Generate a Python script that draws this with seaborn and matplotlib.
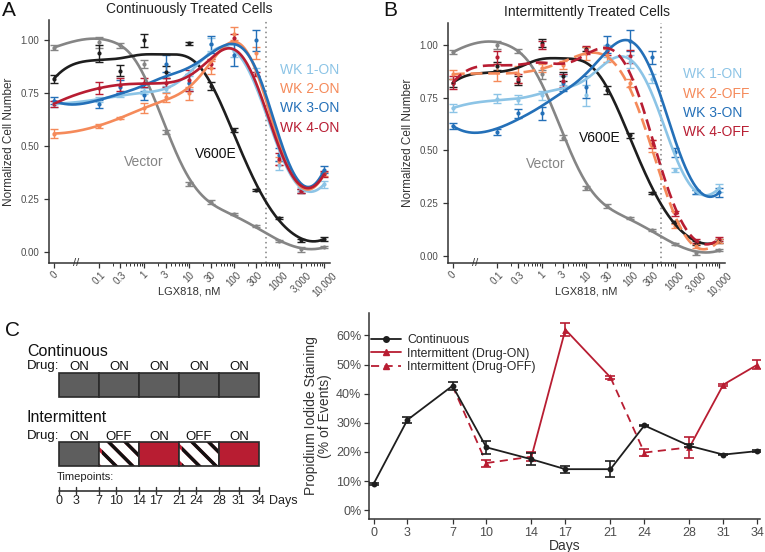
import numpy as np
import pandas as pd
import matplotlib
matplotlib.use("Agg")
import matplotlib.pyplot as plt
import matplotlib.transforms as mtransforms
from matplotlib.patches import Rectangle
from matplotlib.lines import Line2D
import seaborn as sns

sns.set_theme(style="ticks")
plt.rcParams["font.family"] = ["Liberation Sans", "DejaVu Sans"]
plt.rcParams["hatch.linewidth"] = 2.4

# colores
GRIS_V = "#858585"
NEGRO = "#1E1E1E"
CELESTE = "#8CC4E6"
NARANJA = "#F58A5A"
AZUL = "#2470B8"
ROJO = "#B81D32"
CAJA_GRIS = "#5E5E5E"
TXT = "#4D4D4D"

# ── datos: curvas dosis-respuesta ─────────────
conc = [0, 0.1, 0.3, 1, 3, 10, 30, 100, 300, 1000, 3000, 10000]
conc_labels = ["0", "0.1", "0.3", "1", "3", "10", "30", "100", "300", "1000", "3,000", "10,000"]
linea_dosis = 500

# A: continuously treated
a_vector = [0.965, 0.99, 0.975, 0.887, 0.566, 0.324, 0.236, 0.182, 0.124, 0.055, 0.014, 0.024]
a_vector_err = [0.01, 0.025, 0.01, 0.02, 0.01, 0.01, 0.01, 0.005, 0.005, 0.005, 0.01, 0.005]
a_v600e = [0.818, 0.939, 0.857, 1.00, 0.85, 0.985, 0.785, 0.575, 0.294, 0.162, 0.057, 0.064]
a_v600e_err = [0.02, 0.04, 0.025, 0.03, 0.03, 0.008, 0.02, 0.01, 0.005, 0.005, 0.008, 0.008]
a_wk1 = [0.70, 0.72, 0.74, 0.76, 0.77, 0.80, 0.98, 0.95, 0.85, 0.41, 0.30, 0.32]
a_wk1_err = [0.015, 0.01, 0.01, 0.015, 0.015, 0.03, 0.03, 0.03, 0.02, 0.02, 0.01, 0.015]
a_wk2 = [0.56, 0.595, 0.635, 0.68, 0.73, 0.75, 0.87, 1.03, 0.94, 0.43, 0.29, 0.37]
a_wk2_err = [0.02, 0.01, 0.005, 0.025, 0.02, 0.03, 0.03, 0.03, 0.03, 0.02, 0.01, 0.01]
a_wk3 = [0.715, 0.70, 0.78, 0.74, 0.89, 0.80, 0.98, 0.93, 1.00, 0.46, 0.29, 0.39]
a_wk3_err = [0.015, 0.02, 0.03, 0.02, 0.04, 0.04, 0.04, 0.05, 0.05, 0.03, 0.01, 0.015]
a_wk4 = [0.70, 0.775, 0.79, 0.80, 0.80, 0.81, 0.89, 1.01, 0.84, 0.44, 0.29, 0.37]
a_wk4_err = [0.015, 0.03, 0.03, 0.02, 0.02, 0.05, 0.02, 0.02, 0.01, 0.03, 0.01, 0.015]

# B: intermittently treated
b_vector = [0.965, 1.00, 0.97, 0.86, 0.56, 0.32, 0.235, 0.18, 0.12, 0.055, 0.012, 0.025]
b_vector_err = [0.01, 0.02, 0.01, 0.02, 0.01, 0.01, 0.01, 0.005, 0.005, 0.005, 0.01, 0.005]
b_v600e = [0.82, 0.90, 0.83, 1.01, 0.85, 0.98, 0.785, 0.57, 0.295, 0.16, 0.06, 0.07]
b_v600e_err = [0.02, 0.02, 0.02, 0.02, 0.02, 0.01, 0.02, 0.01, 0.005, 0.005, 0.008, 0.008]
b_wk1 = [0.70, 0.745, 0.74, 0.76, 0.83, 0.76, 0.97, 0.92, 0.84, 0.405, 0.30, 0.32]
b_wk1_err = [0.02, 0.02, 0.02, 0.02, 0.02, 0.05, 0.03, 0.03, 0.02, 0.01, 0.01, 0.02]
b_wk2off = [0.86, 0.87, 0.86, 0.89, 0.905, 0.96, 0.95, 0.82, 0.52, 0.14, 0.045, 0.07]
b_wk2off_err = [0.02, 0.04, 0.04, 0.02, 0.02, 0.03, 0.03, 0.02, 0.03, 0.01, 0.01, 0.01]
b_wk3 = [0.615, 0.585, 0.675, 0.675, 0.82, 0.80, 1.00, 1.02, 0.94, 0.49, 0.30, 0.30]
b_wk3_err = [0.015, 0.015, 0.02, 0.03, 0.04, 0.05, 0.04, 0.05, 0.03, 0.02, 0.01, 0.02]
b_wk4off = [0.82, 0.94, 0.84, 1.00, 0.83, 0.975, 0.97, 0.945, 0.53, 0.20, 0.07, 0.08]
b_wk4off_err = [0.03, 0.03, 0.02, 0.02, 0.03, 0.02, 0.02, 0.03, 0.02, 0.01, 0.01, 0.01]

# ── datos: ioduro de propidio ─────────────────
dias = [0, 3, 7, 10, 14, 17, 21, 24, 28, 31, 34]
pi_cont = [9.0, 31.0, 42.7, 21.6, 17.5, 14.1, 14.1, 29.1, 22.1, 19.1, 20.3]
pi_cont_err = [0.3, 1.0, 1.3, 2.3, 2.0, 1.2, 2.8, 0.3, 0.5, 0.3, 0.3]
dias_int = [7, 10, 14, 17, 21, 24, 28, 31, 34]
pi_int = [42.7, 16.2, 18.4, 62.0, 45.6, 19.8, 21.6, 43.1, 49.9]
pi_int_err = [0.0, 1.2, 1.5, 2.2, 0.4, 1.3, 3.5, 0.4, 1.5]
fase_int = ["OFF", "OFF", "OFF", "ON", "ON", "OFF", "OFF", "ON", "ON"]

# ── datos: esquema ────────────────────────────
semanas = [0, 7, 14, 21, 28, 34]
fase_cont = ["ON", "ON", "ON", "ON", "ON"]
fase_inter = ["ON", "OFF", "ON", "OFF", "ON"]
relleno_inter = ["gris", "rayas", "rojo", "rayas", "rojo"]


def suavizar(x, y, malla, h=0.58):
    """Regresión local cuadrática con pesos gaussianos."""
    x = np.asarray(x, float)
    y = np.asarray(y, float)
    out = []
    for g in malla:
        w = np.exp(-0.5 * ((x - g) / h) ** 2)
        X = np.vstack([np.ones_like(x), x - g, (x - g) ** 2]).T
        A = X.T @ (X * w[:, None])
        b = X.T @ (w * y)
        out.append(np.linalg.solve(A, b)[0])
    return np.array(out)


pos = np.log10([0.01 if c == 0 else c for c in conc])
malla = np.linspace(pos[0], pos[-1], 300)

fig = plt.figure(figsize=(7.65, 5.52), dpi=100)
W, H = 765.0, 552.0


def caja(l, r, t, b):
    return [l / W, 1 - b / H, (r - l) / W, (b - t) / H]


def estilo_ejes(ax):
    sns.despine(ax=ax)
    for s in ("left", "bottom"):
        ax.spines[s].set_color("#333333")
        ax.spines[s].set_linewidth(1.1)
    ax.tick_params(colors="#333333", labelcolor=TXT, width=0.9, length=3.5, labelsize=7)
    ax.set_facecolor("white")


def panel_dosis(ax, series, titulo, ylim, textos, vec_xy, v6_xy):
    estilo_ejes(ax)
    for nombre, vals, errs, color, punteada in series:
        ax.errorbar(pos, vals, yerr=errs, fmt="none", ecolor=color,
                    elinewidth=1.0, capsize=2.6, capthick=1.0, zorder=2)
        sns.scatterplot(x=pos, y=vals, color=color, s=9, linewidth=0, ax=ax, zorder=3)
    for nombre, vals, errs, color, punteada in series:
        ls = (0, (4.5, 2.2)) if punteada else "-"
        sns.lineplot(x=malla, y=suavizar(pos, vals, malla), color=color, lw=1.9,
                     linestyle=ls, ax=ax, zorder=4)
    ax.axvline(np.log10(linea_dosis), color="#808080", ls=(0, (1, 2.2)), lw=1.1, zorder=1)
    ax.set_xlim(-2.11, 4.13)
    ax.set_ylim(*ylim)
    ax.set_xticks(pos)
    ax.set_xticklabels(conc_labels, rotation=45, ha="center", va="top", fontsize=7)
    ax.tick_params(axis="x", which="major", pad=1.5)
    menores = [np.log10(k * 10.0 ** d) for d in range(-1, 4) for k in (2, 4, 5, 6, 7, 8, 9)]
    ax.set_xticks(menores, minor=True)
    ax.tick_params(axis="x", which="minor", length=1.8, width=0.7, colors="#333333")
    ax.set_yticks([0, 0.25, 0.5, 0.75, 1.0])
    ax.set_yticklabels(["0.00", "0.25", "0.50", "0.75", "1.00"])
    ax.set_xlabel("LGX818, nM", fontsize=8, color="#333333", labelpad=-8)
    ax.set_ylabel("Normalized Cell Number", fontsize=8.5, color="#333333", labelpad=4)
    ax.set_title(titulo, fontsize=10, color="#222222", pad=5)
    tr = mtransforms.blended_transform_factory(ax.transData, ax.transAxes)
    ax.text(-1.5, 0.0, "//", transform=tr, ha="center", va="center",
            fontsize=8, color="#333333", clip_on=False)
    for (tx, ty, t, c) in textos:
        ax.text(tx, ty, t, transform=ax.transAxes, color=c, fontsize=10,
                ha="left", va="center")
    ax.text(vec_xy[0], vec_xy[1], "Vector", color=GRIS_V, fontsize=10, ha="center", va="center")
    ax.text(v6_xy[0], v6_xy[1], "V600E", color="#111111", fontsize=10, ha="center", va="center")


# ── Panel A ──
axA = fig.add_axes(caja(49, 330, 20, 263))
series_a = [
    ("Vector", a_vector, a_vector_err, GRIS_V, False),
    ("V600E", a_v600e, a_v600e_err, NEGRO, False),
    ("WK 1-ON", a_wk1, a_wk1_err, CELESTE, False),
    ("WK 2-ON", a_wk2, a_wk2_err, NARANJA, False),
    ("WK 3-ON", a_wk3, a_wk3_err, AZUL, False),
    ("WK 4-ON", a_wk4, a_wk4_err, ROJO, False),
]
txt_a = [((279.5 - 49) / 281, 1 - (70 - 20) / 243, "WK 1-ON", CELESTE),
         ((279.5 - 49) / 281, 1 - (89 - 20) / 243, "WK 2-ON", NARANJA),
         ((279.5 - 49) / 281, 1 - (108 - 20) / 243, "WK 3-ON", AZUL),
         ((279.5 - 49) / 281, 1 - (128 - 20) / 243, "WK 4-ON", ROJO)]
panel_dosis(axA, series_a, "Continuously Treated Cells", (-0.05, 1.095), txt_a,
            (0.0, 0.426), (1.6, 0.464))

# ── Panel B ──
axB = fig.add_axes(caja(448, 725, 22.7, 263))
series_b = [
    ("Vector", b_vector, b_vector_err, GRIS_V, False),
    ("V600E", b_v600e, b_v600e_err, NEGRO, False),
    ("WK 1-ON", b_wk1, b_wk1_err, CELESTE, False),
    ("WK 2-OFF", b_wk2off, b_wk2off_err, NARANJA, True),
    ("WK 3-ON", b_wk3, b_wk3_err, AZUL, False),
    ("WK 4-OFF", b_wk4off, b_wk4off_err, ROJO, True),
]
txt_b = [((683 - 448) / 277, 1 - (74 - 22.7) / 240.3, "WK 1-ON", CELESTE),
         ((683 - 448) / 277, 1 - (94 - 22.7) / 240.3, "WK 2-OFF", NARANJA),
         ((683 - 448) / 277, 1 - (113 - 22.7) / 240.3, "WK 3-ON", AZUL),
         ((683 - 448) / 277, 1 - (132 - 22.7) / 240.3, "WK 4-OFF", ROJO)]
panel_dosis(axB, series_b, "Intermittently Treated Cells", (-0.035, 1.105), txt_b,
            (0.1, 0.436), (1.31, 0.56))

# ── Panel C: esquema ──
axS = fig.add_axes([0, 0, 300 / W, 262 / H])
axS.set_xlim(0, 300)
axS.set_ylim(552, 290)
axS.axis("off")
x_bordes = np.linspace(59, 259, len(semanas))


def x_dia(d):
    return np.interp(d, semanas, x_bordes)


def barra(y0, y1, fases, rellenos, titulo, y_tit, y_drug):
    axS.text(27, y_tit, titulo, fontsize=11.5, color="#111111", ha="left", va="center")
    axS.text(27, y_drug, "Drug:", fontsize=9.5, color="#111111", ha="left", va="center")
    for i, (f, r) in enumerate(zip(fases, rellenos)):
        l, rr = x_bordes[i], x_bordes[i + 1]
        if r == "rayas":
            axS.add_patch(Rectangle((l, y0), rr - l, y1 - y0, facecolor="white",
                                    edgecolor=ROJO, hatch="\\\\", lw=0))
            axS.add_patch(Rectangle((l + 2.5, y0), rr - l - 2.5, y1 - y0, facecolor="none",
                                    edgecolor="#111111", hatch="\\\\", lw=0))
        else:
            axS.add_patch(Rectangle((l, y0), rr - l, y1 - y0,
                                    facecolor=CAJA_GRIS if r == "gris" else ROJO, lw=0))
        axS.add_patch(Rectangle((l, y0), rr - l, y1 - y0, facecolor="none",
                                edgecolor="#2a2a2a", lw=1.2))
        axS.text((l + rr) / 2, y_drug + 1, f, fontsize=9.5, color="#111111",
                 ha="center", va="center")


axS.text(5, 330, "C", fontsize=15, color="#111111", ha="left", va="center")
barra(372.7, 396.7, fase_cont, ["gris"] * 5, "Continuous", 351, 366)
barra(442.3, 465.7, fase_inter, relleno_inter, "Intermittent", 418, 435.5)
axS.text(57, 477, "Timepoints:", fontsize=8, color="#222222", ha="left", va="center")
axS.plot([x_bordes[0], x_bordes[-1]], [490.7, 490.7], color="#333333", lw=1.2)
for d in dias:
    xd = x_dia(d)
    axS.plot([xd, xd], [486.5, 494], color="#333333", lw=1.0)
    axS.text(xd, 501, str(d), fontsize=9, color="#222222", ha="center", va="center")
axS.text(269, 501, "Days", fontsize=9, color="#222222", ha="left", va="center")

# ── Panel C: ioduro de propidio ──
axC = fig.add_axes(caja(369, 760, 313, 519))
estilo_ejes(axC)
axC.tick_params(labelsize=9, pad=2)
fase_ls = {"ON": "-", "OFF": (0, (4.5, 3))}
for i in range(1, len(dias_int)):
    sns.lineplot(x=dias_int[i - 1:i + 1], y=pi_int[i - 1:i + 1], color=ROJO, lw=1.3,
                 linestyle=fase_ls[fase_int[i]], ax=axC, zorder=2)
axC.errorbar(dias_int[1:], pi_int[1:], yerr=pi_int_err[1:], fmt="none", ecolor=ROJO,
             elinewidth=1.2, capsize=3.5, capthick=1.2, zorder=3)
sns.scatterplot(x=dias_int[1:], y=pi_int[1:], color=ROJO, marker="^", s=24,
                linewidth=0, ax=axC, zorder=4, clip_on=False)
sns.lineplot(x=dias, y=pi_cont, color=NEGRO, lw=1.3, ax=axC, zorder=5)
axC.errorbar(dias, pi_cont, yerr=pi_cont_err, fmt="none", ecolor=NEGRO,
             elinewidth=1.2, capsize=3.5, capthick=1.2, zorder=6)
sns.scatterplot(x=dias, y=pi_cont, color=NEGRO, marker="o", s=18, linewidth=0,
                ax=axC, zorder=7, clip_on=False)
axC.set_xlim(-0.4, 34.25)
axC.set_ylim(-3, 67.7)
axC.set_xticks(dias)
axC.set_yticks(range(0, 61, 10))
axC.set_yticklabels([f"{v}%" for v in range(0, 61, 10)])
axC.set_xlabel("Days", fontsize=10, color="#333333", labelpad=0)
axC.set_ylabel("Propidium Iodide Staining\n(% of Events)", fontsize=10,
               color="#333333", labelpad=3, linespacing=1.0)
manejadores = [
    Line2D([], [], color=NEGRO, lw=1.3, marker="o", ms=4),
    Line2D([], [], color=ROJO, lw=1.3, marker="^", ms=4.5),
    Line2D([], [], color=ROJO, lw=1.3, ls=(0, (4.5, 3)), marker="^", ms=4.5),
]
axC.legend(manejadores, ["Continuous", "Intermittent (Drug-ON)", "Intermittent (Drug-OFF)"],
           loc="upper left", bbox_to_anchor=(0.0, 0.91), frameon=False, fontsize=8.8,
           handlelength=2.4, labelspacing=0.13, borderaxespad=0.0, borderpad=0.2,
           handletextpad=0.5)

fig.text(2 / W, 1 - 11 / H, "A", fontsize=15, color="#111111", ha="left", va="center")
fig.text(383 / W, 1 - 11 / H, "B", fontsize=15, color="#111111", ha="left", va="center")

fig.savefig("out.png", dpi=100, facecolor="white")
